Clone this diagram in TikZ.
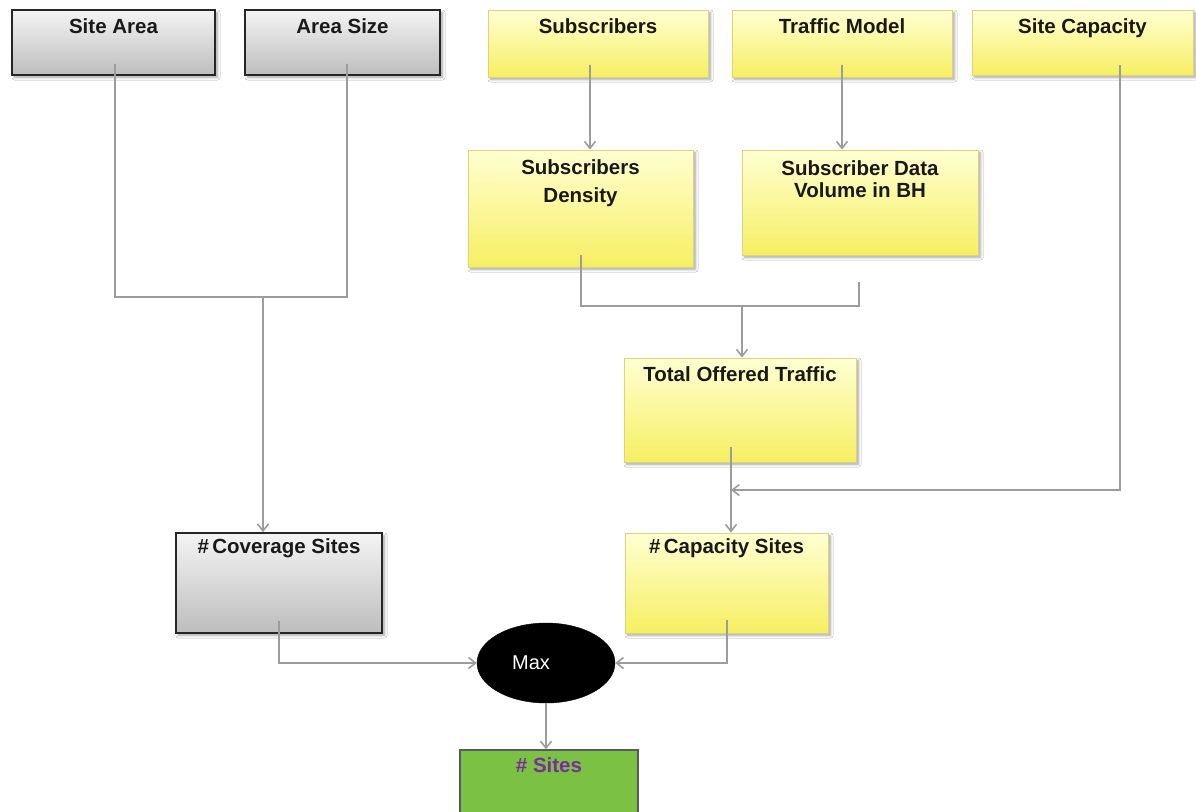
\documentclass[tikz,border=0pt]{standalone}
\usepackage{fontspec}
\setmainfont{Liberation Sans}
\usetikzlibrary{calc,arrows.meta,shadows.blur,shapes.geometric}

\definecolor{linegray}{HTML}{9C9C9C}
\definecolor{boxyellowtop}{HTML}{FFFFD2}
\definecolor{boxyellowbot}{HTML}{F6EF62}
\definecolor{yellowedge}{HTML}{DCD47A}
\definecolor{graytop}{HTML}{F4F4F4}
\definecolor{graybot}{HTML}{BDBDBD}
\definecolor{sitegreen}{HTML}{7BC143}
\definecolor{sitepurple}{HTML}{7A2E9C}

\tikzset{
  boxshadow/.style={blur shadow={shadow xshift=2.5pt, shadow yshift=-2.5pt,
      shadow blur steps=6, shadow blur radius=2.5pt, shadow opacity=35}},
  graybox/.style={rectangle, draw=black!85, line width=1.6pt,
      top color=graytop, bottom color=graybot, boxshadow, inner sep=0pt},
  yellowbox/.style={rectangle, draw=yellowedge, line width=0.8pt,
      top color=boxyellowtop, bottom color=boxyellowbot, boxshadow, inner sep=0pt},
  greenbox/.style={rectangle, draw=black!65, line width=1.3pt,
      fill=sitegreen, inner sep=0pt},
  maxnode/.style={ellipse, fill=black, draw=black, minimum width=138pt,
      minimum height=80pt, inner sep=0pt},
  txt/.style={font=\fontsize{20.5}{22}\selectfont\bfseries, text=black!90,
      inner sep=0pt, align=center},
  oneline/.style={txt, text height=14.7pt, text depth=0pt},
  wire/.style={draw=linegray, line width=1.6pt},
  arrowwire/.style={wire, -{Straight Barb[length=7pt,width=11pt]}},
}

\begin{document}
\begin{tikzpicture}[x=1pt,y=-1pt]
\useasboundingbox (0,0) rectangle (1196,811);
\fill[white] (0,0) rectangle (1196,811);

% ---- input boxes (top row)
\node[graybox, minimum width=203pt, minimum height=65pt] (sitearea) at (113.5,42.5) {};
\node[graybox, minimum width=195pt, minimum height=65pt] (areasize) at (342.5,42.5) {};
\node[yellowbox, minimum width=220pt, minimum height=67pt] (subs) at (598,43.5) {};
\node[yellowbox, minimum width=220pt, minimum height=67pt] (tmodel) at (842,43.5) {};
\node[yellowbox, minimum width=221pt, minimum height=65pt] (sitecap) at (1082.5,42.5) {};

% ---- intermediate boxes
\node[yellowbox, minimum width=225pt, minimum height=117pt] (density) at (580.5,208.5) {};
\node[yellowbox, minimum width=236pt, minimum height=105pt] (volume) at (860,202.5) {};
\node[yellowbox, minimum width=232pt, minimum height=104pt] (offered) at (740,410) {};

% ---- results
\node[graybox, minimum width=206pt, minimum height=100pt] (covsites) at (279,583) {};
\node[yellowbox, minimum width=203pt, minimum height=100pt] (capsites) at (726.5,583) {};
\node[maxnode] (max) at (546,663) {};
\node[greenbox, minimum width=178pt, minimum height=80pt] (sites) at (549,790) {};

% ---- junction points and connector start points
\coordinate (jcov) at (263,297);
\coordinate (jtraffic) at (742,306);
\coordinate (jcap) at (731,490);
\coordinate (subsout) at ($(subs.south)+(-8,-12)$);
\coordinate (tmodelout) at ($(tmodel.south)+(0,-12)$);

% ---- connectors
\draw[wire] ($(sitearea.south)+(1.5,-12)$) |- (jcov);
\draw[wire] ($(areasize.south)+(4.5,-12)$) |- (jcov);
\draw[arrowwire] (jcov) -- (jcov |- covsites.north);

\draw[arrowwire] (subsout) -- (subsout |- density.north);
\draw[arrowwire] (tmodelout) -- (tmodelout |- volume.north);

\draw[wire] ($(density.south)+(0.5,-12)$) |- (jtraffic);
\draw[wire] ($(volume.south)+(-1,27)$) |- (jtraffic);
\draw[arrowwire] (jtraffic) -- (jtraffic |- offered.north);

\draw[wire] ($(offered.south)+(-9,-15)$) -- (jcap);
\draw[arrowwire] ($(sitecap.south)+(37.5,-10)$) |- (jcap);
\draw[arrowwire] (jcap) -- (jcap |- capsites.north);

\draw[arrowwire] ($(covsites.south)+(0,-13)$) |- (max.west);
\draw[arrowwire] ($(capsites.south)+(0.5,-13)$) |- (max.east);
\draw[arrowwire] (max.south) -- (max.south |- sites.north);

% ---- labels
\node[oneline] (t-sitearea) at ($(sitearea.north)+(0,17)$) {Site Area};
\node[oneline] (t-areasize) at ($(areasize.north)+(0,17)$) {Area Size};
\node[oneline] (t-subs) at ($(subs.north)+(0,17)$) {Subscribers};
\node[oneline] (t-tmodel) at ($(tmodel.north)+(0,17)$) {Traffic Model};
\node[oneline] (t-sitecap) at ($(sitecap.north)+(0,17)$) {Site Capacity};
\node[txt] (t-density) at ($(density.north)+(0,34)$) {Subscribers\\[6pt]Density};
\node[txt] (t-volume) at ($(volume.north)+(0,29.5)$) {Subscriber Data\\Volume in BH};
\node[oneline] (t-offered) at ($(offered.north)+(0,17)$) {Total Offered Traffic};
\node[oneline] (t-covsites) at ($(covsites.north)+(0,14)$) {\#\,Coverage Sites};
\node[oneline] (t-capsites) at ($(capsites.north)+(0,14)$) {\#\,Capacity Sites};
\node[oneline, text=sitepurple] (t-sites) at ($(sites.north)+(0,16)$) {\# Sites};
\node[font=\fontsize{20}{22}\selectfont, text=white, inner sep=0pt] (t-max) at ($(max.center)+(-15,0)$) {Max};
\end{tikzpicture}
\end{document}
